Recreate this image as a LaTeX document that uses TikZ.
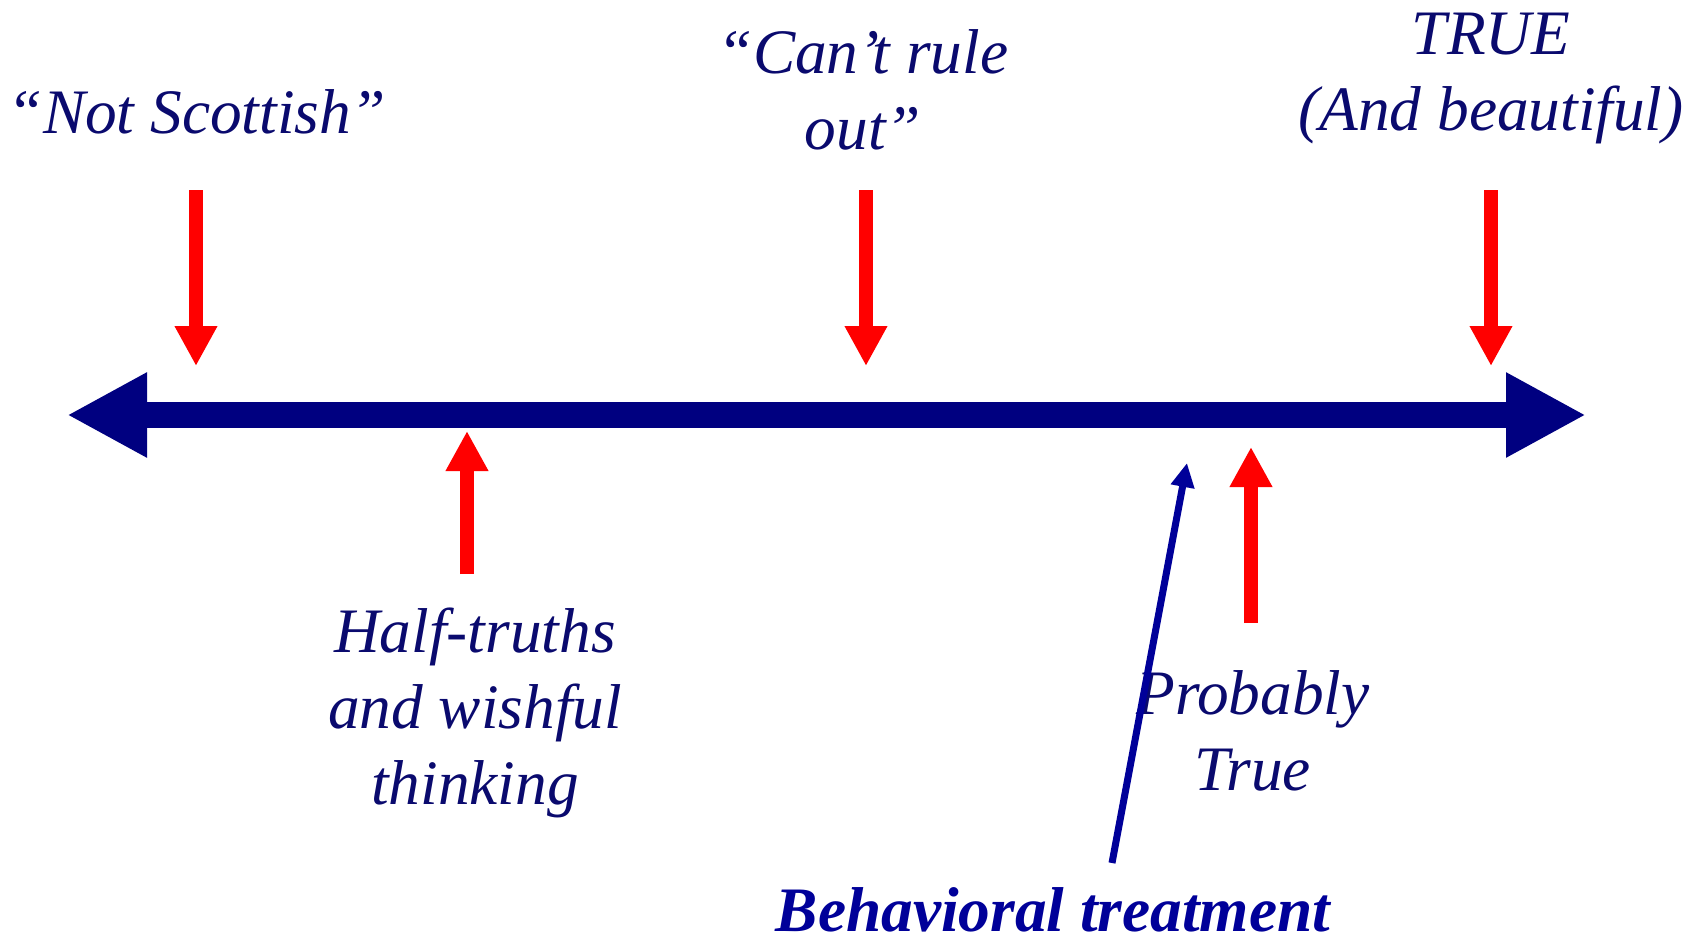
\documentclass[tikz,border=0pt]{standalone}
\usepackage{fontspec}
\setmainfont{Liberation Serif}
\usetikzlibrary{arrows.meta}
\definecolor{navytext}{HTML}{0A0A6E}
\definecolor{axisblue}{HTML}{000080}
\definecolor{brightnavy}{HTML}{000099}
\definecolor{arrowred}{HTML}{FF0000}
\begin{document}
\begin{tikzpicture}[x=0.75pt,y=-0.75pt,
  lbl/.style={font=\fontsize{47.5pt}{57pt}\selectfont\itshape, text=navytext, align=center, inner sep=0pt, anchor=base},
  redarrow/.style={draw=arrowred, line width=10pt, -{Triangle[length=30pt,width=30pt]}},
  axisarrow/.style={draw=axisblue, line width=20pt, {Triangle[length=60pt,width=59.5pt]}-{Triangle[length=60pt,width=59.5pt]}},
  bluearrow/.style={draw=brightnavy, line width=5.25pt, -{Triangle[length=18pt,width=17pt]}}]
\useasboundingbox (0,0) rectangle (1704,939);
% axis
\coordinate (axL) at (67,415);
\coordinate (axR) at (1586,415);
\draw[axisarrow] (axL) -- (axR);
% labels (anchor = baseline of last line)
\node[lbl] (ns) at (197,133) {“Not Scottish”};
\node[lbl] (cr) at (863,149) {“Can’t rule\\out”};
\node[lbl] (tr) at (1491,130) {TRUE\\(And beautiful)};
\node[lbl] (ht) at (475,804) {Half-truths\\and wishful\\thinking};
\node[lbl] (pt) at (1253,790) {Probably\\True};
\node[lbl, font=\fontsize{47.5pt}{57pt}\selectfont\itshape\bfseries, text=brightnavy] (bt) at (1053,931) {Behavioral treatment};
% red arrows down
\coordinate (d1s) at (196,190); \coordinate (d1e) at (196,366);
\coordinate (d2s) at (866,190); \coordinate (d2e) at (866,366);
\coordinate (d3s) at (1491,190); \coordinate (d3e) at (1491,366);
\draw[redarrow] (d1s) -- (d1e);
\draw[redarrow] (d2s) -- (d2e);
\draw[redarrow] (d3s) -- (d3e);
% red arrows up
\coordinate (u1s) at (467,574); \coordinate (u1e) at (467,431);
\coordinate (u2s) at (1251,623); \coordinate (u2e) at (1251,447);
\draw[redarrow] (u1s) -- (u1e);
\draw[redarrow] (u2s) -- (u2e);
% blue arrow
\coordinate (bs) at (1112,863); \coordinate (be) at (1187,463);
\draw[bluearrow] (bs) -- (be);
\end{tikzpicture}
\end{document}
